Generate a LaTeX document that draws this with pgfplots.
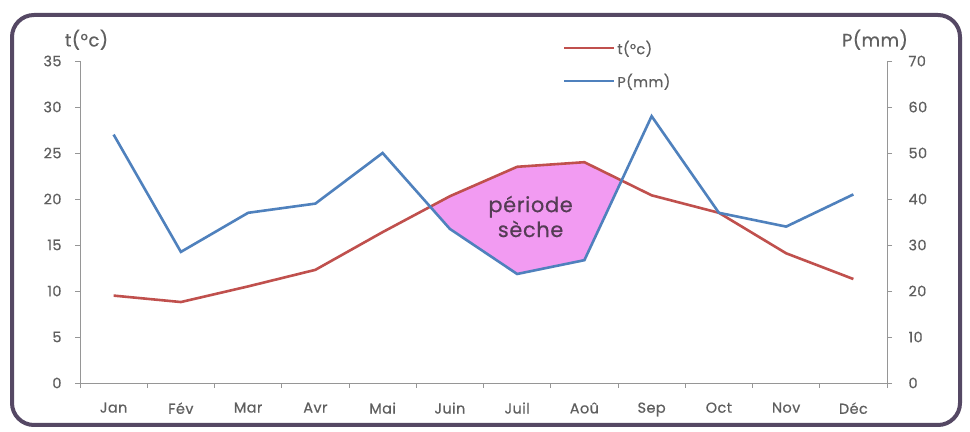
\documentclass[border=0pt]{standalone}
\usepackage{pgfplots}
\pgfplotsset{compat=1.18}
\usepackage{fontspec}
\setmainfont{Poppins}[FakeBold=0.5, LetterSpace=3]
\definecolor{tred}{RGB}{192,80,77}
\definecolor{pblue}{RGB}{79,129,189}
\definecolor{dryfill}{RGB}{242,155,242}
\definecolor{ticktext}{RGB}{95,95,95}
\definecolor{axisgray}{RGB}{150,150,150}
\definecolor{framecol}{RGB}{85,72,100}
\definecolor{notecol}{RGB}{85,60,85}

\begin{document}
\begin{tikzpicture}
	\useasboundingbox (0,0) rectangle (970bp,432bp);
	\fill[white] (0,0) rectangle (970bp,432bp);
	\draw[line width=4bp, framecol, rounded corners=22bp] (12bp,7bp) rectangle (960bp,417bp);

	\pgfplotsset{
		every axis/.append style={
			scale only axis,
			width=807bp, height=322bp,
			at={(80bp,49bp)}, anchor=south west,
			xmin=-0.5, xmax=11.5,
			tick align=outside,
			axis line style={axisgray, line width=0.8bp, -},
			tick style={axisgray, line width=0.8bp},
			major tick length=5bp,
			minor tick length=5bp,
			ticklabel style={font=\fontsize{14.5}{16}\selectfont, color=ticktext},
			/pgf/number format/assume math mode=true,
			clip=false,
		}
	}

	% temperature axis
	\begin{axis}[
		axis x line*=bottom,
		axis y line*=left,
		ymin=0, ymax=35,
		ytick={0,5,...,35},
		xtick={0,...,11},
		xticklabels={Jan,Fév,Mar,Avr,Mai,Juin,Juil,Aoû,Sep,Oct,Nov,Déc},
		major x tick style={draw=none},
		minor xtick={-0.5,0.5,...,11.5},
		xticklabel style={yshift=-11bp},
		yticklabel style={xshift=-10bp},
		]
		% dry period: temperature above P/2
		\addplot [fill=dryfill, draw=none]
		coordinates {
			(4.708,19.16) (5,20.3) (6,23.5) (7,24.0) (7.553,22.0)
			(7,13.35) (6,11.85) (5,16.75)
		} -- cycle;

		\addplot [tred, line width=2.6bp]
		table {%
			0 9.5
			1 8.8
			2 10.5
			3 12.3
			4 16.4
			5 20.3
			6 23.5
			7 24.0
			8 20.4
			9 18.5
			10 14.1
			11 11.3
		};

		\node[notecol, font=\fontsize{21}{25}\selectfont, align=center]
			at (axis cs:6.2,18.1) {période\\sèche};
		\node[ticktext, font=\fontsize{18}{20}\selectfont]
			at (axis description cs:0.008,1.066) {t(°c)};
	\end{axis}

	% precipitation axis
	\begin{axis}[
		axis x line=none,
		axis y line*=right,
		ymin=0, ymax=70,
		ytick={0,10,...,70},
		yticklabel style={xshift=13bp},
		legend style={draw=none, fill=none,
			at={(axis description cs:0.598,1.07)}, anchor=north west,
			font=\fontsize{14.5}{16}\selectfont, text=ticktext,
			row sep=14bp, inner sep=0pt},
		legend cell align=left,
		legend image code/.code={\draw[#1] (0bp,0bp) -- (50bp,0bp);},
		]
		\addlegendimage{tred, line width=2.6bp}
		\addlegendentry{t(°c)}
		\addlegendimage{pblue, line width=2.6bp}
		\addlegendentry{P(mm)}
		\addplot [pblue, line width=2.6bp, forget plot]
		table {%
			0 54
			1 28.5
			2 37
			3 39
			4 50
			5 33.5
			6 23.7
			7 26.7
			8 58
			9 37
			10 34
			11 41
		};
		\node[ticktext, font=\fontsize{18}{20}\selectfont]
			at (axis description cs:0.985,1.066) {P(mm)};
	\end{axis}
\end{tikzpicture}
\end{document}
